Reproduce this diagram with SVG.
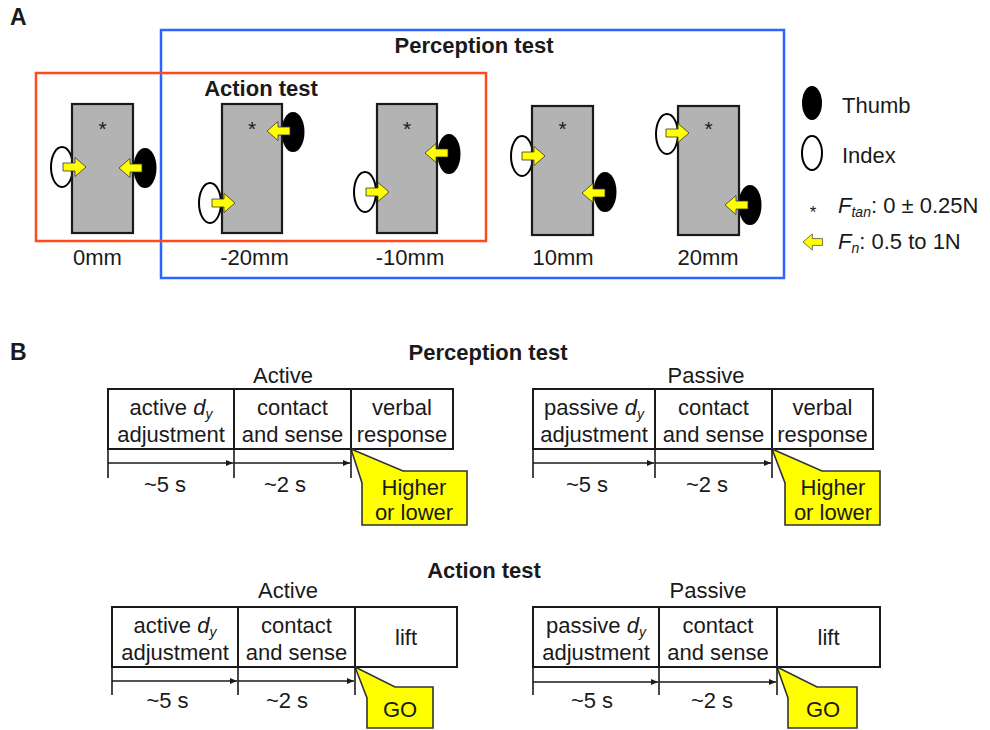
<svg xmlns="http://www.w3.org/2000/svg" width="990" height="730" viewBox="0 0 990 730">
<defs>
<style>
text{font-family:"Liberation Sans",Arial,sans-serif;fill:#1a1a1a;font-size:22px}
.b{font-weight:bold}
.m{text-anchor:middle}
.plate{fill:#b3b3b3;stroke:#1a1a1a;stroke-width:2.2}
.th{fill:#000}
.ix{fill:#fff;stroke:#000;stroke-width:2}
.ar{fill:#ffff00;stroke:#333;stroke-width:0.8}
.ast{font-size:21px;text-anchor:middle}
.cell{fill:#fff;stroke:#1a1a1a;stroke-width:2}
.tl{stroke:#1a1a1a;stroke-width:1.6;fill:none}
.call{fill:#ffff00;stroke:#333;stroke-width:1.6}
</style>
<path id="arr" d="M0,0 L-11,-9.5 L-11,-4 L-23,-4 L-23,4 L-11,4 L-11,9.5 Z"/>
<marker id="mk" markerWidth="8" markerHeight="8" refX="7" refY="4" orient="auto" markerUnits="userSpaceOnUse">
<path d="M0,1 L7,4 L0,7 Z" fill="#1a1a1a"/>
</marker>
</defs>
<rect width="990" height="730" fill="#fff"/>

<text x="10" y="25" class="b" style="font-size:23px">A</text>
<text x="10" y="360" class="b" style="font-size:23px">B</text>

<!-- frames -->
<g id="perception-frame">
<rect x="161" y="30" width="623" height="248" fill="none" stroke="#2f63ff" stroke-width="2.5"/>
<text x="474" y="53" class="b m">Perception test</text>
</g>
<g id="action-frame">
<rect x="36" y="73" width="450" height="168" fill="none" stroke="#ff4a1c" stroke-width="2.5"/>
<text x="261" y="96" class="b m">Action test</text>
</g>

<!-- panels -->
<g id="p0">
<ellipse cx="62" cy="167" rx="11" ry="20" class="ix"/>
<ellipse cx="145" cy="168" rx="11.5" ry="20" class="th"/>
<rect x="72" y="104" width="61" height="129" class="plate"/>
<text x="102.5" y="136" class="ast">*</text>
<use href="#arr" class="ar" transform="translate(86,167)"/>
<use href="#arr" class="ar" transform="translate(119,168) scale(-1,1)"/>
<text x="97.5" y="265" class="m">0mm</text>
</g>
<g id="pm20">
<ellipse cx="210" cy="203" rx="11" ry="20" class="ix"/>
<ellipse cx="293" cy="132" rx="11.5" ry="20" class="th"/>
<rect x="222" y="104" width="60" height="129" class="plate"/>
<text x="252" y="136" class="ast">*</text>
<use href="#arr" class="ar" transform="translate(235,203)"/>
<use href="#arr" class="ar" transform="translate(267,131) scale(-1,1)"/>
<text x="254.5" y="265" class="m">-20mm</text>
</g>
<g id="pm10">
<ellipse cx="365" cy="192" rx="11" ry="20" class="ix"/>
<ellipse cx="449" cy="154" rx="11.5" ry="20" class="th"/>
<rect x="377" y="104" width="60" height="129" class="plate"/>
<text x="407" y="136" class="ast">*</text>
<use href="#arr" class="ar" transform="translate(389,192)"/>
<use href="#arr" class="ar" transform="translate(425,153) scale(-1,1)"/>
<text x="410" y="265" class="m">-10mm</text>
</g>
<g id="p10">
<ellipse cx="522" cy="156" rx="11" ry="20" class="ix"/>
<ellipse cx="605" cy="192" rx="11.5" ry="20" class="th"/>
<rect x="532" y="106" width="61" height="129" class="plate"/>
<text x="562.5" y="136" class="ast">*</text>
<use href="#arr" class="ar" transform="translate(545,156)"/>
<use href="#arr" class="ar" transform="translate(582,193) scale(-1,1)"/>
<text x="563" y="265" class="m">10mm</text>
</g>
<g id="p20">
<ellipse cx="667" cy="134" rx="11" ry="20" class="ix"/>
<ellipse cx="750" cy="205" rx="11.5" ry="20" class="th"/>
<rect x="678" y="106" width="61" height="129" class="plate"/>
<text x="708.5" y="136" class="ast">*</text>
<use href="#arr" class="ar" transform="translate(689,133)"/>
<use href="#arr" class="ar" transform="translate(725,205) scale(-1,1)"/>
<text x="708" y="265" class="m">20mm</text>
</g>

<!-- legend -->
<g id="legend">
<ellipse cx="812" cy="103" rx="10" ry="17" class="th"/>
<text x="842" y="113">Thumb</text>
<ellipse cx="812" cy="153" rx="10" ry="17" class="ix"/>
<text x="842" y="163">Index</text>
<text x="813" y="218" style="font-size:17px;text-anchor:middle">*</text>
<text x="838" y="213"><tspan font-style="italic">F</tspan><tspan font-style="italic" style="font-size:14px" dy="4">tan</tspan><tspan dy="-4">: 0 ± 0.25N</tspan></text>
<use href="#arr" class="ar" transform="translate(803,242) scale(-0.85,0.85)"/>
<text x="838" y="249"><tspan font-style="italic">F</tspan><tspan font-style="italic" style="font-size:14px" dy="4">n</tspan><tspan dy="-4">: 0.5 to 1N</tspan></text>
</g>

<!-- Part B -->
<text x="488" y="360" class="b m">Perception test</text>
<text x="484" y="578" class="b m">Action test</text>

<g id="perc-active">
<text x="283" y="383" class="m">Active</text>
<rect x="108" y="389" width="345" height="60" class="cell"/>
<line x1="234" y1="389" x2="234" y2="449" class="tl" style="stroke-width:2"/>
<line x1="351" y1="389" x2="351" y2="449" class="tl" style="stroke-width:2"/>
<text x="171" y="415" class="m">active <tspan font-style="italic">d</tspan><tspan font-style="italic" style="font-size:14px" dy="4">y</tspan></text>
<text x="171" y="442" class="m">adjustment</text>
<text x="292.5" y="415" class="m">contact</text>
<text x="292.5" y="442" class="m">and sense</text>
<text x="402" y="415" class="m">verbal</text>
<text x="402" y="442" class="m">response</text>
<text x="165" y="492" class="m">~5 s</text>
<text x="285" y="492" class="m">~2 s</text>
<path d="M351,449 L403,471 L467,471 L467,525 L362,525 L362,483 Z" class="call"/>
<text x="414" y="495" class="m">Higher</text>
<text x="414" y="520" class="m">or lower</text>
</g>

<g id="perc-passive">
<text x="706" y="383" class="m">Passive</text>
<rect x="533" y="389" width="340" height="60" class="cell"/>
<line x1="655" y1="389" x2="655" y2="449" class="tl" style="stroke-width:2"/>
<line x1="772" y1="389" x2="772" y2="449" class="tl" style="stroke-width:2"/>
<text x="594" y="415" class="m">passive <tspan font-style="italic">d</tspan><tspan font-style="italic" style="font-size:14px" dy="4">y</tspan></text>
<text x="594" y="442" class="m">adjustment</text>
<text x="713.5" y="415" class="m">contact</text>
<text x="713.5" y="442" class="m">and sense</text>
<text x="822.5" y="415" class="m">verbal</text>
<text x="822.5" y="442" class="m">response</text>
<text x="587" y="492" class="m">~5 s</text>
<text x="707" y="492" class="m">~2 s</text>
<path d="M772,449 L822,471 L880,471 L880,525 L785,525 L785,483 Z" class="call"/>
<text x="833" y="495" class="m">Higher</text>
<text x="833" y="520" class="m">or lower</text>
</g>

<g id="act-active">
<text x="288" y="598" class="m">Active</text>
<rect x="112" y="607" width="345" height="60" class="cell"/>
<line x1="238" y1="607" x2="238" y2="667" class="tl" style="stroke-width:2"/>
<line x1="355" y1="607" x2="355" y2="667" class="tl" style="stroke-width:2"/>
<text x="175" y="633" class="m">active <tspan font-style="italic">d</tspan><tspan font-style="italic" style="font-size:14px" dy="4">y</tspan></text>
<text x="175" y="660" class="m">adjustment</text>
<text x="296.5" y="633" class="m">contact</text>
<text x="296.5" y="660" class="m">and sense</text>
<text x="406" y="645" class="m">lift</text>
<text x="167.5" y="708" class="m">~5 s</text>
<text x="287" y="708" class="m">~2 s</text>
<path d="M355,667 L395,687 L433,687 L433,728 L367,728 L367,698 Z" class="call"/>
<text x="400" y="717" class="m">GO</text>
</g>

<g id="act-passive">
<text x="708" y="598" class="m">Passive</text>
<rect x="533" y="607" width="347" height="60" class="cell"/>
<line x1="659" y1="607" x2="659" y2="667" class="tl" style="stroke-width:2"/>
<line x1="777" y1="607" x2="777" y2="667" class="tl" style="stroke-width:2"/>
<text x="596" y="633" class="m">passive <tspan font-style="italic">d</tspan><tspan font-style="italic" style="font-size:14px" dy="4">y</tspan></text>
<text x="596" y="660" class="m">adjustment</text>
<text x="718" y="633" class="m">contact</text>
<text x="718" y="660" class="m">and sense</text>
<text x="828.5" y="645" class="m">lift</text>
<text x="592" y="708" class="m">~5 s</text>
<text x="712" y="708" class="m">~2 s</text>
<path d="M777,667 L817,687 L857,687 L857,728 L788,728 L788,698 Z" class="call"/>
<text x="823" y="717" class="m">GO</text>
</g>

<!-- timelines -->
<g id="connectors">
<line x1="108" y1="449" x2="108" y2="478" class="tl"/>
<line x1="234" y1="449" x2="234" y2="478" class="tl"/>
<line x1="351" y1="449" x2="351" y2="478" class="tl"/>
<line x1="108" y1="463" x2="233" y2="463" class="tl" marker-end="url(#mk)"/>
<line x1="234" y1="463" x2="350" y2="463" class="tl" marker-end="url(#mk)"/>

<line x1="533" y1="449" x2="533" y2="478" class="tl"/>
<line x1="655" y1="449" x2="655" y2="478" class="tl"/>
<line x1="772" y1="449" x2="772" y2="478" class="tl"/>
<line x1="533" y1="463" x2="654" y2="463" class="tl" marker-end="url(#mk)"/>
<line x1="655" y1="463" x2="771" y2="463" class="tl" marker-end="url(#mk)"/>

<line x1="112" y1="667" x2="112" y2="695" class="tl"/>
<line x1="238" y1="667" x2="238" y2="695" class="tl"/>
<line x1="355" y1="667" x2="355" y2="695" class="tl"/>
<line x1="112" y1="681" x2="237" y2="681" class="tl" marker-end="url(#mk)"/>
<line x1="238" y1="681" x2="354" y2="681" class="tl" marker-end="url(#mk)"/>

<line x1="533" y1="667" x2="533" y2="695" class="tl"/>
<line x1="659" y1="667" x2="659" y2="695" class="tl"/>
<line x1="777" y1="667" x2="777" y2="695" class="tl"/>
<line x1="533" y1="682" x2="658" y2="682" class="tl" marker-end="url(#mk)"/>
<line x1="659" y1="682" x2="776" y2="682" class="tl" marker-end="url(#mk)"/>
</g>
</svg>
